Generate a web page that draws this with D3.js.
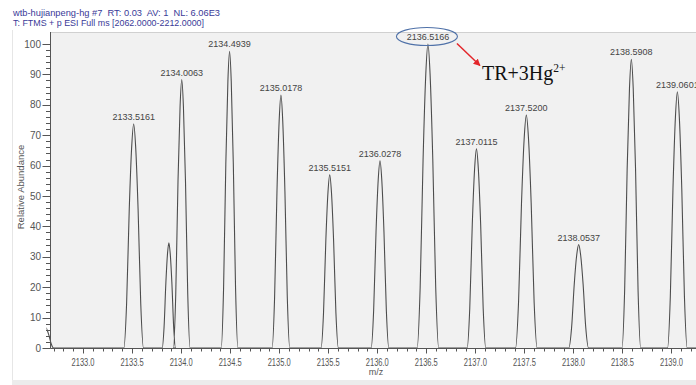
<!DOCTYPE html>
<html>
<head>
<meta charset="utf-8">
<script src="https://cdn.jsdelivr.net/npm/d3@7"></script>
<style>
  html, body { margin: 0; padding: 0; background: #ffffff; }
  svg { display: block; }
  text { font-family: "Liberation Sans", Arial, sans-serif; }
  text.serif { font-family: "Liberation Serif", "Times New Roman", serif; }
</style>
</head>
<body>
<svg id="chart" width="696" height="385"></svg>
<script>
// Spectrum header lines
const headerLines = [
  "wtb-hujianpeng-hg #7  RT: 0.03  AV: 1  NL: 6.06E3",
  "T: FTMS + p ESI Full ms [2062.0000-2212.0000]"
];

// Peak centroids (m/z), relative abundance and half base width (m/z)
const peakMz     = [2132.610, 2133.5161, 2133.875, 2134.0063, 2134.4939, 2135.0178, 2135.5151,
                    2136.0278, 2136.5166, 2137.0115, 2137.5200, 2138.0537, 2138.5908, 2139.0601];
const peakHeight = [7, 73.7, 34.6, 88.3, 97.6, 83.2, 57.0,
                    61.6, 100, 65.5, 76.6, 34.0, 95.0, 84.3];
const peakHalfWidth = [0.09, 0.10, 0.068, 0.085, 0.085, 0.09, 0.088,
                       0.09, 0.11, 0.095, 0.11, 0.10, 0.095, 0.10];
// Peaks that carry an m/z label (label text = centroid)
const peakLabeled = [false, true, false, true, true, true, true,
                     true, true, true, true, true, true, true];

const xTickValues = [2133.0, 2133.5, 2134.0, 2134.5, 2135.0, 2135.5, 2136.0,
                     2136.5, 2137.0, 2137.5, 2138.0, 2138.5, 2139.0];
const yTickValues = [0, 10, 20, 30, 40, 50, 60, 70, 80, 90, 100];

const annotatedMz = 2136.5166;
const annotationText = "TR+3Hg";
const annotationSup = "2+";

// Profile outline of one peak, as (fraction of half width, fraction of height)
const peakOutline = [[-1, 0], [-0.72, 0.2], [-0.45, 0.62], [-0.2, 0.9], [0, 1],
                     [0.2, 0.9], [0.45, 0.62], [0.72, 0.2], [1, 0]];

const W = 696, H = 385;
const plot = { left: 50.5, right: 696, top: 32, bottom: 348.5 };

const svg = d3.select("#chart");

const x = d3.scaleLinear().domain([2132.668, 2139.25]).range([plot.left, plot.right]);
const y = d3.scaleLinear().domain([0, 100]).range([348, 44]);

// window frame
svg.append("rect").attr("x", 0).attr("y", 0).attr("width", W).attr("height", H).attr("fill", "#ffffff");
svg.append("rect").attr("x", 12).attr("y", 380).attr("width", W - 12).attr("height", 5).attr("fill", "#ececec");
svg.append("line").attr("x1", 12.5).attr("x2", 12.5).attr("y1", 30).attr("y2", 380)
  .attr("stroke", "#e6e6e6").attr("stroke-width", 1);

// plot background
svg.append("rect")
  .attr("x", plot.left).attr("y", plot.top)
  .attr("width", plot.right - plot.left).attr("height", plot.bottom - plot.top)
  .attr("fill", "#f1f1f1");
svg.append("line").attr("x1", plot.left).attr("x2", plot.right)
  .attr("y1", plot.top + 0.5).attr("y2", plot.top + 0.5)
  .attr("stroke", "#d0d0d0").attr("stroke-width", 1);

// header
svg.append("g").selectAll("text").data(headerLines).join("text")
  .attr("x", 13).attr("y", (d, i) => 16 + i * 9.5)
  .attr("font-size", 9)
  .attr("fill", "#3a3a98")
  .style("white-space", "pre")
  .attr("textLength", (d, i) => i === 0 ? 207 : 191)
  .attr("lengthAdjust", "spacingAndGlyphs")
  .text(d => d);

// profile path across the whole range
const profile = [[x.domain()[0] - 0.06, peakHeight[0] * 0.3]];
peakMz.forEach((c, i) => {
  peakOutline.forEach(([fx, fy]) => {
    profile.push([c + fx * peakHalfWidth[i], fy * peakHeight[i]]);
  });
});
profile.push([x.domain()[1], 0]);

svg.append("clipPath").attr("id", "plotClip")
  .append("rect").attr("x", plot.left - 4).attr("y", plot.top)
  .attr("width", plot.right - plot.left + 4).attr("height", plot.bottom - plot.top + 2);

const line = d3.line().x(d => x(d[0])).y(d => y(d[1])).curve(d3.curveMonotoneX);
svg.append("path")
  .attr("clip-path", "url(#plotClip)")
  .attr("d", line(profile.filter(p => p[0] >= x.domain()[0] - 0.06)))
  .attr("fill", "none")
  .attr("stroke", "#4d4d4d")
  .attr("stroke-width", 1.1)
  .attr("stroke-linejoin", "round");

// x axis
const xMinor = d3.range(2132.7, 2139.25, 0.1).map(v => Math.round(v * 10) / 10);
const gx = svg.append("g").attr("transform", `translate(0,${plot.bottom})`);
gx.append("line").attr("x1", plot.left).attr("x2", plot.right)
  .attr("stroke", "#555").attr("stroke-width", 1);
gx.selectAll("line.minor").data(xMinor).join("line").attr("class", "minor")
  .attr("x1", d => Math.round(x(d)) + 0.5).attr("x2", d => Math.round(x(d)) + 0.5)
  .attr("y1", 0).attr("y2", d => xTickValues.some(t => Math.abs(t - d) < 1e-6) ? 5 : 3)
  .attr("stroke", "#555").attr("stroke-width", 1);
gx.selectAll("text").data(xTickValues).join("text")
  .attr("x", d => x(d)).attr("y", 17)
  .attr("text-anchor", "middle")
  .attr("font-size", 10)
  .attr("fill", "#555")
  .attr("textLength", 23)
  .attr("lengthAdjust", "spacingAndGlyphs")
  .text(d => d.toFixed(1));
svg.append("text").attr("x", 376).attr("y", 375)
  .attr("text-anchor", "middle").attr("font-size", 9).attr("fill", "#555").text("m/z");

// y axis
const yMinor = d3.range(0, 101, 2);
const gy = svg.append("g").attr("transform", `translate(${plot.left},0)`);
gy.append("line").attr("y1", plot.top).attr("y2", plot.bottom)
  .attr("stroke", "#555").attr("stroke-width", 1);
gy.selectAll("line.minor").data(yMinor).join("line").attr("class", "minor")
  .attr("y1", d => Math.round(y(d)) + 0.5).attr("y2", d => Math.round(y(d)) + 0.5)
  .attr("x1", d => d % 10 === 0 ? -8 : -4.5).attr("x2", 0)
  .attr("stroke", "#555").attr("stroke-width", 1);
gy.selectAll("text").data(yTickValues).join("text")
  .attr("x", -9.5).attr("y", d => y(d) + 3.5)
  .attr("text-anchor", "end")
  .attr("font-size", 10)
  .attr("fill", "#555")
  .text(d => d);
svg.append("text")
  .attr("transform", "translate(23.5,187) rotate(-90)")
  .attr("text-anchor", "middle").attr("font-size", 9.5).attr("fill", "#555")
  .text("Relative Abundance");

// peak labels
const labeled = peakMz.map((m, i) => ({ m, h: peakHeight[i], on: peakLabeled[i] })).filter(d => d.on);
svg.append("g").selectAll("text").data(labeled).join("text")
  .attr("x", d => x(d.m)).attr("y", d => y(d.h) - 4)
  .attr("text-anchor", "middle")
  .attr("font-size", 9)
  .attr("fill", "#444")
  .text(d => d.m.toFixed(4));

// annotation on the base peak
const ai = peakMz.indexOf(annotatedMz);
const ax = x(annotatedMz), ay = y(peakHeight[ai]) - 7.5;
svg.append("ellipse").attr("cx", ax - 1).attr("cy", ay)
  .attr("rx", 30.5).attr("ry", 9)
  .attr("fill", "none").attr("stroke", "#4f71a8").attr("stroke-width", 1.1);

svg.append("defs").append("marker").attr("id", "arrowHead")
  .attr("viewBox", "0 0 10 10").attr("refX", 9).attr("refY", 5)
  .attr("markerWidth", 7).attr("markerHeight", 7).attr("orient", "auto")
  .attr("markerUnits", "userSpaceOnUse")
  .append("path").attr("d", "M0,0 L10,5 L0,10 z").attr("fill", "#e3262b");
svg.append("line")
  .attr("x1", ax + 29).attr("y1", ay + 7)
  .attr("x2", ax + 52).attr("y2", ay + 29)
  .attr("stroke", "#e3262b").attr("stroke-width", 1.5)
  .attr("marker-end", "url(#arrowHead)");

const at = svg.append("text").attr("class", "serif")
  .attr("x", ax + 54).attr("y", ay + 43)
  .attr("font-size", 20).attr("fill", "#111");
at.append("tspan").text(annotationText);
at.append("tspan").attr("dy", -8).attr("font-size", 11.5).text(annotationSup);
</script>
</body>
</html>
